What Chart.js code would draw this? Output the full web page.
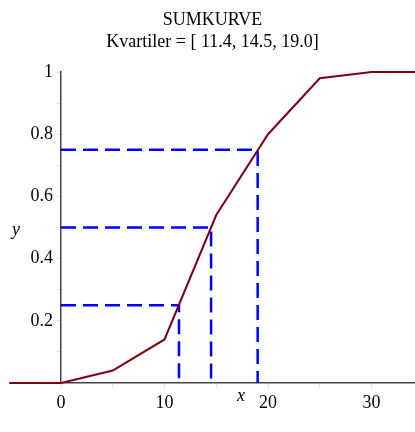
<!DOCTYPE html>
<html><head><meta charset="utf-8">
<script src="https://cdn.jsdelivr.net/npm/chart.js@4"></script>
<style>html,body{margin:0;padding:0;background:#fff}#wrap{width:415px;height:432px}</style>
</head><body><div id="wrap"><canvas id="c"></canvas></div>
<script>
const xValues = [-5, 0, 5, 10, 15, 20, 25, 30, 35];
const cumValues = [0, 0, 0.04, 0.14, 0.54, 0.8, 0.98, 1, 1];
const quartileX = [11.4, 14.5, 19.0];
const quartileY = [0.25, 0.5, 0.75];
const xTicks = [0, 10, 20, 30];
const yTicks = [0.2, 0.4, 0.6, 0.8, 1];
const titleLines = ['SUMKURVE', 'Kvartiler = [ 11.4, 14.5, 19.0]'];
const xLabel = 'x';
const yLabel = 'y';

const serif = "'Liberation Serif', 'Times New Roman', serif";

const datasets = [{
  data: xValues.map((x, i) => ({x, y: cumValues[i]})),
  borderColor: '#7d0014',
  borderWidth: 2,
  pointRadius: 0,
  showLine: true,
  order: 0,
  clip: false
}];
quartileX.forEach((qx, i) => {
  datasets.push({
    data: [{x: 0, y: quartileY[i]}, {x: qx, y: quartileY[i]}, {x: qx, y: 0}],
    borderColor: '#0000ff',
    borderWidth: 2.5,
    borderDash: [15, 7],
    pointRadius: 0,
    showLine: true,
    order: 1,
    clip: false
  });
});

const axisTitles = {
  id: 'axisTitles',
  afterDraw(chart) {
    const {ctx} = chart;
    ctx.save();
    ctx.fillStyle = '#000';
    ctx.font = "italic 18px " + serif;
    ctx.textAlign = 'center';
    ctx.textBaseline = 'middle';
    ctx.fillText(xLabel, 241, 396);
    ctx.fillText(yLabel, 16, 230);
    ctx.restore();
  }
};

new Chart(document.getElementById('c'), {
  type: 'scatter',
  data: {datasets},
  options: {
    responsive: true,
    maintainAspectRatio: false,
    animation: false,
    layout: {padding: {left: 10, right: 0, top: 0, bottom: 19}},
    plugins: {
      legend: {display: false},
      tooltip: {enabled: false},
      title: {
        display: true,
        text: titleLines,
        color: '#000',
        font: {family: serif, size: 18, weight: 'normal', lineHeight: 1.25},
        padding: {top: 9, bottom: 18}
      }
    },
    scales: {
      x: {
        type: 'linear',
        min: 0, max: 34.2,
        position: 'bottom',
        afterFit: s => { s.height = 30; },
        border: {color: '#444', width: 1.5},
        grid: {drawOnChartArea: false, drawTicks: true, tickLength: 4, color: 'rgba(0,0,0,0.12)'},
        ticks: {
          stepSize: 5, autoSkip: false, maxRotation: 0, padding: 5, includeBounds: false,
          color: '#000', font: {family: serif, size: 18},
          callback: v => xTicks.includes(v) ? String(v) : ''
        }
      },
      y: {
        type: 'linear',
        min: 0, max: 1,
        position: 'left',
        afterFit: s => { s.width = 51; },
        border: {color: '#444', width: 1.5},
        grid: {drawOnChartArea: false, drawTicks: true, tickLength: 4, color: 'rgba(0,0,0,0.12)'},
        ticks: {
          stepSize: 0.1, autoSkip: false, padding: 4,
          color: '#000', font: {family: serif, size: 18},
          callback: v => {
            const r = Math.round(v * 10) / 10;
            return yTicks.some(t => Math.abs(t - r) < 1e-9) ? String(r) : '';
          }
        }
      }
    }
  },
  plugins: [axisTitles]
});
</script>
</body></html>
